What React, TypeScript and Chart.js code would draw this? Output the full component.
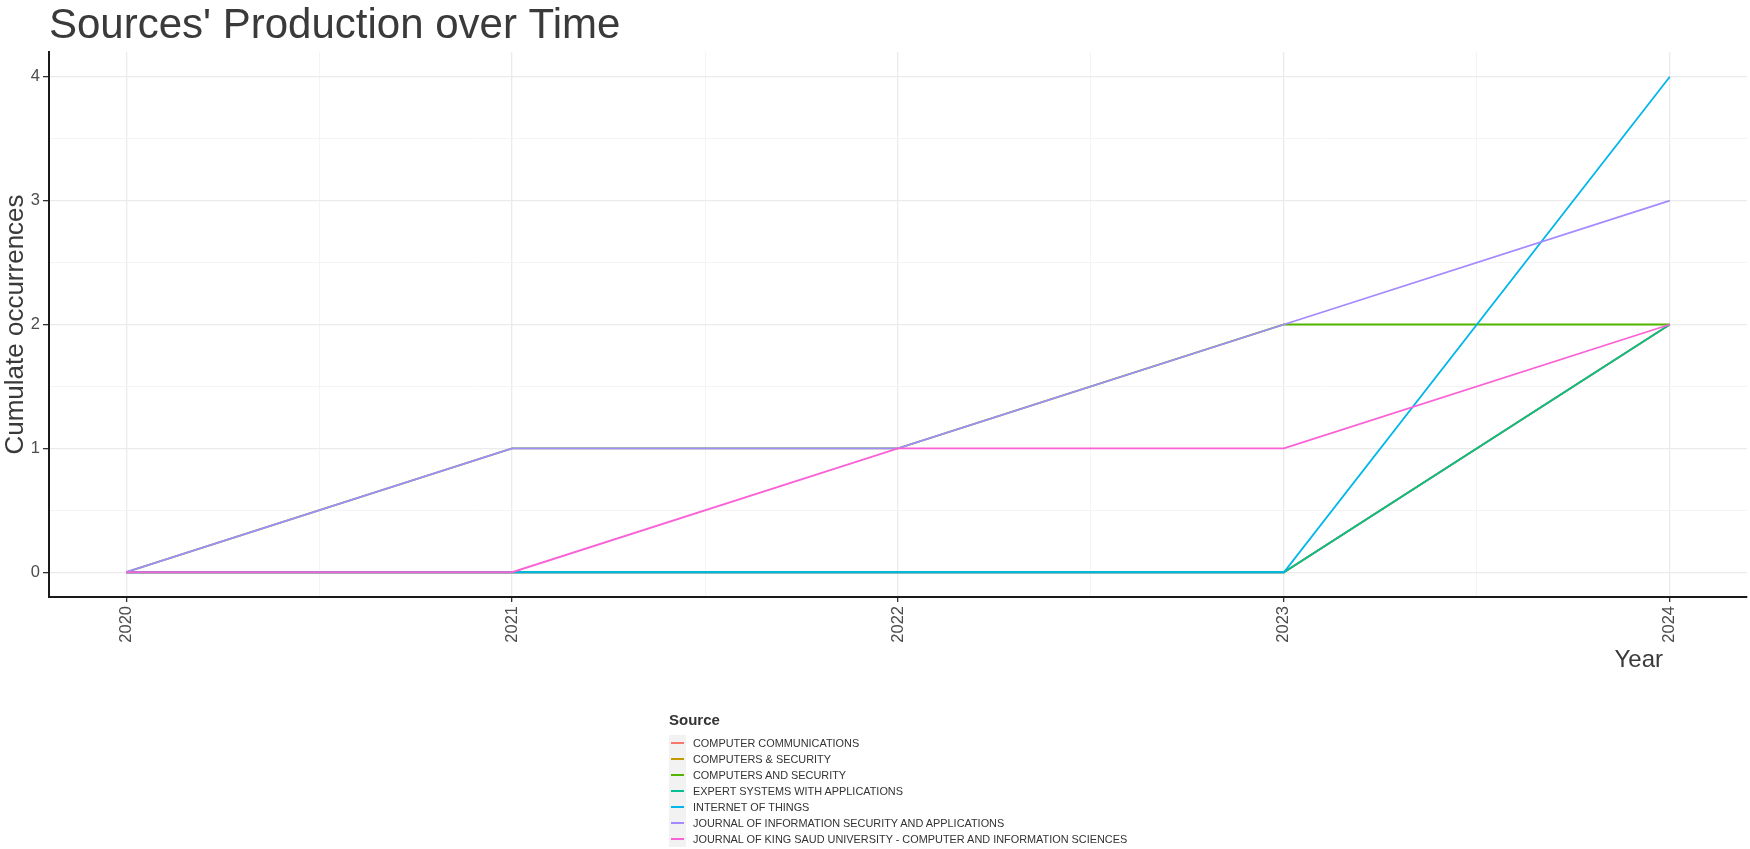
import React, { useEffect, useRef } from "react";
import { Chart, registerables } from "chart.js";

Chart.register(...registerables);

const years = [2020, 2021, 2022, 2023, 2024];
const yTickValues = [0, 1, 2, 3, 4];

const sources = [
  "COMPUTER COMMUNICATIONS",
  "COMPUTERS & SECURITY",
  "COMPUTERS AND SECURITY",
  "EXPERT SYSTEMS WITH APPLICATIONS",
  "INTERNET OF THINGS",
  "JOURNAL OF INFORMATION SECURITY AND APPLICATIONS",
  "JOURNAL OF KING SAUD UNIVERSITY - COMPUTER AND INFORMATION SCIENCES",
];

const computerCommunications = [0, 0, 0, 0, 2];
const computersAmpSecurity = [0, 0, 0, 0, 2];
const computersAndSecurity = [0, 1, 1, 2, 2];
const expertSystems = [0, 0, 0, 0, 2];
const internetOfThings = [0, 0, 0, 0, 4];
const journalInfoSecurity = [0, 1, 1, 2, 3];
const journalKingSaud = [0, 0, 1, 1, 2];

const seriesValues = [
  computerCommunications,
  computersAmpSecurity,
  computersAndSecurity,
  expertSystems,
  internetOfThings,
  journalInfoSecurity,
  journalKingSaud,
];

const colors = ["#F8766D", "#C49A00", "#53B400", "#00C094", "#00B6EB", "#A58AFF", "#FB61D7"];

const FONT = "'Liberation Sans', Arial, Helvetica, sans-serif";

const halfSteps = (vals: number[]) => {
  const out: number[] = [];
  vals.forEach((v, i) => {
    out.push(v);
    if (i < vals.length - 1) out.push(v + 0.5);
  });
  return out;
};

export default function App() {
  const canvasRef = useRef<HTMLCanvasElement | null>(null);

  useEffect(() => {
    const canvas = canvasRef.current;
    if (!canvas) return;

    const textPlugin = {
      id: "textPlugin",
      afterDraw(chart: any) {
        const { ctx, chartArea } = chart;
        ctx.save();
        ctx.fillStyle = "#3a3a3a";
        ctx.font = `42px ${FONT}`;
        ctx.textAlign = "left";
        ctx.textBaseline = "alphabetic";
        ctx.fillText("Sources' Production over Time", 49, 38);
        ctx.font = `24px ${FONT}`;
        ctx.textAlign = "right";
        ctx.fillText("Year", chartArea.right - 84, 667);
        ctx.restore();
      },
    };

    const isMajor = (v: number) => Number.isInteger(v);

    const chart = new Chart(canvas, {
      type: "line",
      data: {
        datasets: sources.map((name, i) => ({
          label: name,
          data: years.map((y, j) => ({ x: y, y: seriesValues[i][j] })),
          borderColor: colors[i],
          backgroundColor: colors[i],
          borderWidth: 1.8,
          pointRadius: 0,
          tension: 0,
          fill: false,
          order: sources.length - i,
        })),
      },
      plugins: [textPlugin],
      options: {
        animation: false,
        responsive: false,
        maintainAspectRatio: false,
        layout: { padding: { left: 0, top: 52, right: 3, bottom: 192 } },
        plugins: {
          legend: { display: false },
          tooltip: { enabled: false },
          title: { display: false },
        },
        scales: {
          x: {
            type: "linear",
            min: 2019.8,
            max: 2024.2,
            afterBuildTicks: (scale: any) => {
              scale.ticks = halfSteps(years).map((v) => ({ value: v }));
            },
            afterFit: (scale: any) => {
              scale.height = 60;
            },
            ticks: {
              autoSkip: false,
              minRotation: 90,
              maxRotation: 90,
              padding: 4,
              color: "#4d4d4d",
              font: { family: FONT, size: 16.5 },
              callback: (v: any) => (isMajor(Number(v)) ? String(v) : ""),
            },
            grid: {
              color: (c: any) => (isMajor(c.tick?.value) ? "#EBEBEB" : "#F3F3F3"),
              lineWidth: (c: any) => (isMajor(c.tick?.value) ? 1.3 : 0.9),
              tickColor: (c: any) => (isMajor(c.tick?.value) ? "#333333" : "rgba(0,0,0,0)"),
              tickWidth: 1.3,
              tickLength: 5,
              drawTicks: true,
            },
            border: { color: "#1a1a1a", width: 2 },
          },
          y: {
            type: "linear",
            min: -0.2,
            max: 4.2,
            afterBuildTicks: (scale: any) => {
              scale.ticks = halfSteps(yTickValues).map((v) => ({ value: v }));
            },
            afterFit: (scale: any) => {
              scale.width = 49;
            },
            ticks: {
              autoSkip: false,
              padding: 3,
              color: "#4d4d4d",
              font: { family: FONT, size: 16.5 },
              callback: (v: any) => (isMajor(Number(v)) ? String(v) : ""),
            },
            grid: {
              color: (c: any) => (isMajor(c.tick?.value) ? "#EBEBEB" : "#F3F3F3"),
              lineWidth: (c: any) => (isMajor(c.tick?.value) ? 1.3 : 0.9),
              tickColor: (c: any) => (isMajor(c.tick?.value) ? "#333333" : "rgba(0,0,0,0)"),
              tickWidth: 1.3,
              tickLength: 6,
              drawTicks: true,
            },
            border: { color: "#1a1a1a", width: 2 },
            title: {
              display: true,
              text: "Cumulate occurrences",
              color: "#3a3a3a",
              font: { family: FONT, size: 26 },
              padding: { top: 0, bottom: 0 },
            },
          },
        },
      },
    });

    return () => chart.destroy();
  }, []);

  return (
    <div
      style={{
        position: "fixed",
        left: 0,
        top: 0,
        width: 1750,
        height: 849,
        background: "#ffffff",
        overflow: "hidden",
        fontFamily: FONT,
      }}
    >
      <canvas
        ref={canvasRef}
        width={1750}
        height={849}
        style={{ position: "absolute", left: 0, top: 0, width: 1750, height: 849 }}
      />
      <div style={{ position: "absolute", left: 669, top: 710 }}>
        <div
          style={{
            fontWeight: "bold",
            fontSize: 15,
            color: "#333333",
            height: 20,
            lineHeight: "20px",
            marginBottom: 5,
          }}
        >
          Source
        </div>
        {sources.map((name, i) => (
          <div
            key={name}
            style={{ display: "flex", alignItems: "center", height: 16, lineHeight: "16px" }}
          >
            <div
              style={{
                width: 17,
                height: 16,
                background: "#F2F2F2",
                position: "relative",
                marginRight: 7,
              }}
            >
              <div
                style={{
                  position: "absolute",
                  left: 2,
                  right: 2,
                  top: 7,
                  height: 2,
                  background: colors[i],
                }}
              />
            </div>
            <span style={{ fontSize: 10.9, color: "#333333", whiteSpace: "nowrap" }}>{name}</span>
          </div>
        ))}
      </div>
    </div>
  );
}
